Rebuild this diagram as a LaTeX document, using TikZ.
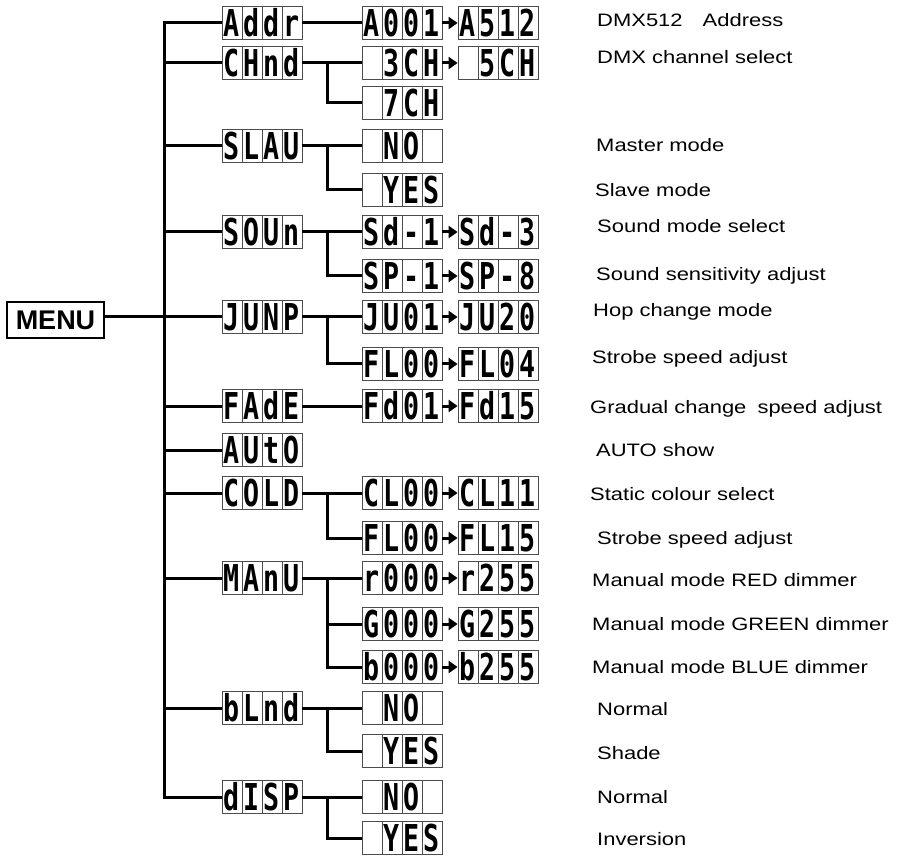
\documentclass[tikz,border=0pt]{standalone}
\usepackage{fontspec}
\setmainfont{Liberation Sans}
\newfontfamily\descfont[FakeStretch=1.22]{Liberation Sans}
\newfontfamily\lcdfont{DejaVu Sans Mono}
\usetikzlibrary{positioning, arrows.meta}

\newcommand\cell[1]{\makebox[20pt]{\scalebox{0.72}[1]{#1}}}
\newcommand\seg[4]{\cell{#1}\cell{#2}\cell{#3}\cell{#4}}

\begin{document}
\begin{tikzpicture}[x=1pt, y=-1pt, on grid, node distance=140pt,
    lcd/.style={draw=black!70, line width=0.8pt, inner sep=0pt,
      minimum width=80pt, minimum height=33pt, text height=27pt, text depth=0pt,
      font=\lcdfont\bfseries\fontsize{37pt}{37pt}\selectfont,
      path picture={\foreach \k in {1,2,3}
        \draw[black!70, line width=0.8pt]
          ([xshift=\k*20pt]path picture bounding box.south west) --
          ([xshift=\k*20pt]path picture bounding box.north west);}},
    menubox/.style={draw, line width=2.5pt, inner sep=0pt, minimum width=97pt,
      minimum height=36pt, font=\bfseries\fontsize{27pt}{27pt}\selectfont},
    wire/.style={line width=3pt},
    nextval/.style={line width=3pt, -{Triangle[length=9pt, width=12pt]}},
    desc/.style={anchor=base west, inner sep=0pt,
      font=\descfont\fontsize{18pt}{20pt}\selectfont}]
    \useasboundingbox (0,0) rectangle (902,858);

    \node[menubox] (menu) at (55.5,320) {MENU};

    % top level menu
    \node[lcd] (addr) at (262,23)  {\seg Addr};
    \node[lcd] (chnd) at (262,63)  {\seg CHnd};
    \node[lcd] (slau) at (262,146) {\seg SLAU};
    \node[lcd] (soun) at (262,232) {\seg SOUn};
    \node[lcd] (junp) at (262,317) {\seg JUNP};
    \node[lcd] (fade) at (262,406) {\seg FAdE};
    \node[lcd] (auto) at (262,450) {\seg AUtO};
    \node[lcd] (colo) at (262,493) {\seg COLD};
    \node[lcd] (manu) at (262,578) {\seg MAnU};
    \node[lcd] (blnd) at (262,708) {\seg bLnd};
    \node[lcd] (disp) at (262,797) {\seg dISP};

    % second level
    \node[lcd] (a001) [right=of addr] {\seg A001};
    \node[lcd] (ch3) [right=of chnd] {\seg{}3CH};
    \node[lcd] (ch7) [below=40pt of ch3] {\seg{}7CH};
    \node[lcd] (mno) [right=of slau] {\seg{}NO{}};
    \node[lcd] (myes) [below=44pt of mno] {\seg{}YES};
    \node[lcd] (sd1) [right=of soun] {\seg Sd-1};
    \node[lcd] (sp1) [below=44pt of sd1] {\seg SP-1};
    \node[lcd] (ju01) [right=of junp] {\seg JU01};
    \node[lcd] (fl00) [below=47pt of ju01] {\seg FL00};
    \node[lcd] (fd01) [right=of fade] {\seg Fd01};
    \node[lcd] (cl00) [right=of colo] {\seg CL00};
    \node[lcd] (cfl00) [below=45pt of cl00] {\seg FL00};
    \node[lcd] (r000) [right=of manu] {\seg r000};
    \node[lcd] (g000) [below=46pt of r000] {\seg G000};
    \node[lcd] (b000) [below=43pt of g000] {\seg b000};
    \node[lcd] (bno) [right=of blnd] {\seg{}NO{}};
    \node[lcd] (byes) [below=43pt of bno] {\seg{}YES};
    \node[lcd] (dno) [right=of disp] {\seg{}NO{}};
    \node[lcd] (dyes) [below=41pt of dno] {\seg{}YES};

    % end values
    \node[lcd] (a512) [right=96pt of a001] {\seg A512};
    \node[lcd] (ch5) [right=96pt of ch3] {\seg{}5CH};
    \node[lcd] (sd3) [right=96pt of sd1] {\seg Sd-3};
    \node[lcd] (sp8) [right=96pt of sp1] {\seg SP-8};
    \node[lcd] (ju20) [right=96pt of ju01] {\seg JU20};
    \node[lcd] (fl04) [right=96pt of fl00] {\seg FL04};
    \node[lcd] (fd15) [right=96pt of fd01] {\seg Fd15};
    \node[lcd] (cl11) [right=96pt of cl00] {\seg CL11};
    \node[lcd] (fl15) [right=96pt of cfl00] {\seg FL15};
    \node[lcd] (r255) [right=96pt of r000] {\seg r255};
    \node[lcd] (g255) [right=96pt of g000] {\seg G255};
    \node[lcd] (b255) [right=96pt of b000] {\seg b255};

    % descriptions
    \node[desc] (t1) at (597,27) {DMX512\hspace{14pt} Address};
    \node[desc] (t2) at (597,64) {DMX channel select};
    \node[desc] (t3) at (596,152) {Master mode};
    \node[desc] (t4) at (595,197) {Slave mode};
    \node[desc] (t5) at (597,233) {Sound mode select};
    \node[desc] (t6) at (596,281) {Sound sensitivity adjust};
    \node[desc] (t7) at (593,317) {Hop change mode};
    \node[desc] (t8) at (592,364) {Strobe speed adjust};
    \node[desc] (t9) at (590,413) {Gradual change\hspace{5pt} speed adjust};
    \node[desc] (t10) at (596,456) {AUTO show};
    \node[desc] (t11) at (590,500) {Static colour select};
    \node[desc] (t12) at (597,544) {Strobe speed adjust};
    \node[desc] (t13) at (592,586) {Manual mode RED dimmer};
    \node[desc] (t14) at (592,630) {Manual mode GREEN dimmer};
    \node[desc] (t15) at (592,673) {Manual mode BLUE dimmer};
    \node[desc] (t16) at (597,715) {Normal};
    \node[desc] (t17) at (597,759) {Shade};
    \node[desc] (t18) at (597,803) {Normal};
    \node[desc] (t19) at (597,845) {Inversion};

    % main trunk
    \coordinate (spine) at ([xshift=-57pt]addr.west);
    \draw[wire] (addr.west) -- (spine) -- (spine |- disp.west) -- (disp.west);
    \draw[wire] (menu.east |- junp.west) -- (spine |- junp.west);
    \path[wire]
    (spine |- chnd.west) edge (chnd)
    (spine |- slau.west) edge (slau)
    (spine |- soun.west) edge (soun)
    (spine |- junp.west) edge (junp)
    (spine |- fade.west) edge (fade)
    (spine |- auto.west) edge (auto)
    (spine |- colo.west) edge (colo)
    (spine |- manu.west) edge (manu)
    (spine |- blnd.west) edge (blnd);

    % into the sub menus
    \path[wire]
    (addr) edge (a001)
    (chnd) edge (ch3)
    (slau) edge (mno)
    (soun) edge (sd1)
    (junp) edge (ju01)
    (fade) edge (fd01)
    (colo) edge (cl00)
    (manu) edge (r000)
    (blnd) edge (bno)
    (disp) edge (dno);
    \draw[wire] ([xshift=25pt]chnd.east) |- (ch7.west);
    \draw[wire] ([xshift=25pt]slau.east) |- (myes.west);
    \draw[wire] ([xshift=25pt]soun.east) |- (sp1.west);
    \draw[wire] ([xshift=25pt]junp.east) |- (fl00.west);
    \draw[wire] ([xshift=25pt]colo.east) |- (cfl00.west);
    \draw[wire] ([xshift=25pt]manu.east) |- (g000.west);
    \draw[wire] ([xshift=25pt]manu.east) |- (b000.west);
    \draw[wire] ([xshift=25pt]blnd.east) |- (byes.west);
    \draw[wire] ([xshift=25pt]disp.east) |- (dyes.west);

    % next value arrows
    \draw[nextval] (a001) -- (a512);
    \draw[nextval] (ch3) -- (ch5);
    \draw[nextval] (sd1) -- (sd3);
    \draw[nextval] (sp1) -- (sp8);
    \draw[nextval] (ju01) -- (ju20);
    \draw[nextval] (fl00) -- (fl04);
    \draw[nextval] (fd01) -- (fd15);
    \draw[nextval] (cl00) -- (cl11);
    \draw[nextval] (cfl00) -- (fl15);
    \draw[nextval] (r000) -- (r255);
    \draw[nextval] (g000) -- (g255);
    \draw[nextval] (b000) -- (b255);
\end{tikzpicture}
\end{document}
